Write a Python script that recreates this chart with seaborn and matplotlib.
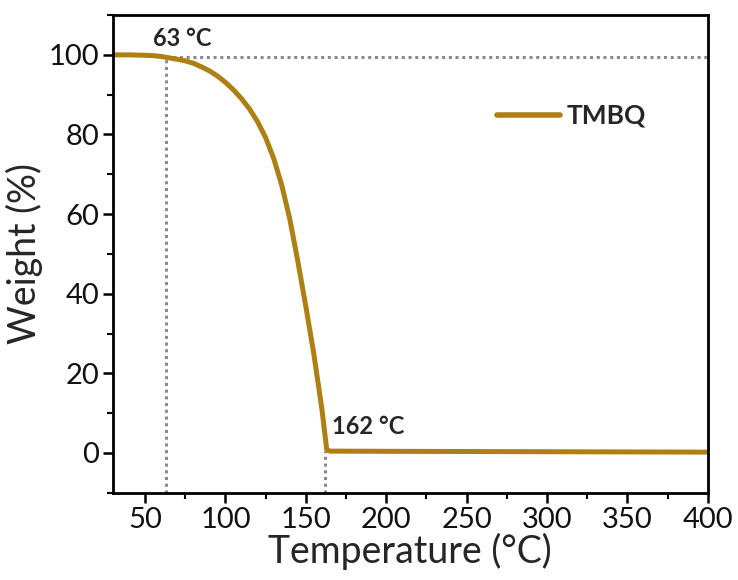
import matplotlib
matplotlib.use("Agg")
import matplotlib.pyplot as plt
from matplotlib.ticker import MultipleLocator
import pandas as pd
import seaborn as sns

# TGA trace of TMBQ
temperature = [30, 40, 50, 55, 60, 65, 70, 75, 80, 85, 90, 95, 100, 105, 110,
               115, 120, 125, 130, 135, 140, 145, 150, 155, 160, 163, 165,
               200, 250, 300, 350, 400]
weight = [100.0, 100.0, 99.9, 99.8, 99.6, 99.25, 98.9, 98.5, 97.9, 97.0, 96.0,
          94.7, 93.1, 91.2, 89.0, 86.4, 83.2, 79.2, 74.0, 67.3, 58.8, 48.2,
          36.8, 24.8, 11.0, 0.8, 0.45, 0.4, 0.35, 0.3, 0.25, 0.2]
series_name = ["TMBQ"]

# onset / end temperatures and plateau level
onset_temps = [63, 162]
onset_labels = ["63 °C", "162 °C"]
plateau_levels = [99.5, 0.5]

sns.set_style("ticks")
plt.rcParams["font.family"] = ["Lato", "DejaVu Sans"]

df = pd.DataFrame({"Temperature": temperature, "Weight": weight,
                   "Sample": series_name * len(temperature)})

fig = plt.figure(figsize=(7.38, 5.80), dpi=100)
ax = fig.add_axes([0.153, 0.1505, 0.806, 0.8235])

line_color = "#AE8014"
sns.lineplot(data=df, x="Temperature", y="Weight", hue="Sample",
             palette=[line_color], linewidth=3.6, ax=ax, sort=False)

ymin, ymax = -10, 110
guide = dict(color="#8a8a8a", linestyle=(0, (1, 1.2)), linewidth=2.2, zorder=1)
ax.plot([onset_temps[0], 400], [plateau_levels[0]] * 2, **guide)
ax.plot([onset_temps[0]] * 2, [ymin, plateau_levels[0]], **guide)
ax.plot([onset_temps[1]] * 2, [ymin, plateau_levels[1]], **guide)

ax.text(55.0, 104, onset_labels[0], fontsize=17, fontweight="bold",
        va="center", ha="left")
ax.text(166.0, 6.6, onset_labels[1], fontsize=17, fontweight="bold",
        va="center", ha="left")

ax.set_xlim(30, 400)
ax.set_ylim(ymin, ymax)
ax.xaxis.set_major_locator(MultipleLocator(50))
ax.xaxis.set_minor_locator(MultipleLocator(25))
ax.yaxis.set_major_locator(MultipleLocator(20))
ax.yaxis.set_minor_locator(MultipleLocator(10))
ax.set_yticks(range(0, 101, 20))

ax.set_xlabel("Temperature (°C)", fontsize=27, labelpad=0)
ax.set_ylabel("Weight (%)", fontsize=27, labelpad=4)
ax.tick_params(axis="both", which="major", direction="out", length=7,
               width=1.8, labelsize=21, color="black", labelcolor="#111111",
               pad=3)
ax.tick_params(axis="both", which="minor", direction="out", length=4,
               width=1.5, color="black")
for side in ["top", "right", "bottom", "left"]:
    ax.spines[side].set_visible(True)
    ax.spines[side].set_linewidth(2.0)
    ax.spines[side].set_color("black")

leg = ax.legend(loc="center left", bbox_to_anchor=(0.645, 0.789), frameon=False,
                handlelength=2.4, handletextpad=0.25, borderaxespad=0,
                borderpad=0, prop={"size": 19, "weight": "bold"})
for h in leg.get_lines():
    h.set_linewidth(4)
    h.set_solid_capstyle("round")

fig.savefig("out.png", dpi=100)
